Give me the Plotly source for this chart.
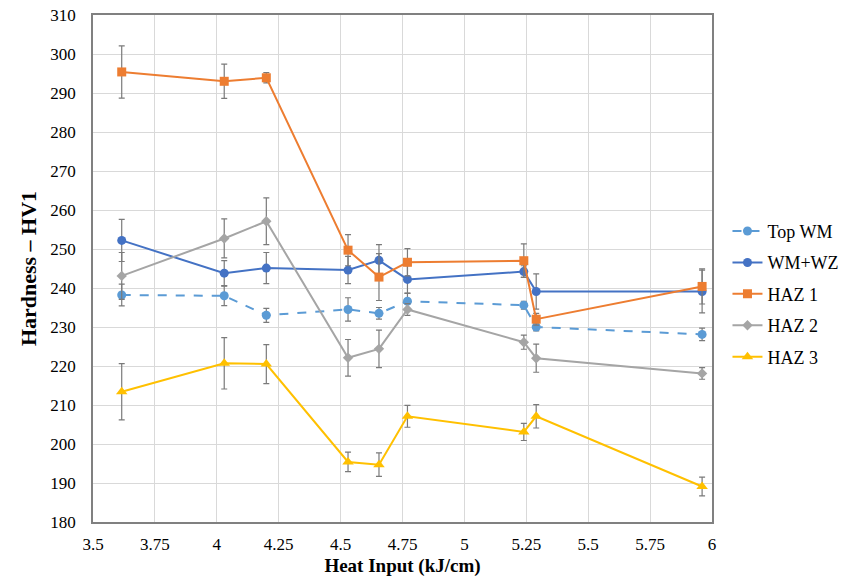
import plotly.graph_objects as go

heat_input = [3.616, 4.03, 4.20, 4.53, 4.655, 4.77, 5.24, 5.29, 5.96]

top_wm = [238.2, 238.0, 233.0, 234.5, 233.5, 236.6, 235.6, 230.0, 228.1]
top_wm_err = [2.8, 2.5, 1.8, 3.0, 1.5, 2.0, 1.0, 1.0, 1.6]

wm_wz = [252.2, 243.8, 245.1, 244.6, 247.1, 242.2, 244.2, 239.1, 239.1]
wm_wz_err = [5.4, 3.2, 4.0, 3.5, 4.0, 3.5, 1.5, 4.5, 5.5]

haz1 = [295.4, 293.0, 293.9, 249.7, 242.8, 246.6, 247.0, 232.0, 240.4]
haz1_err = [6.7, 4.4, 1.3, 4.0, 6.0, 3.5, 4.3, 1.5, 4.5]

haz2 = [243.1, 252.7, 257.1, 222.1, 224.4, 234.5, 226.1, 222.0, 218.1]
haz2_err = [6.0, 5.0, 6.0, 4.7, 4.8, 1.5, 1.8, 3.6, 1.5]

haz3 = [213.4, 220.7, 220.5, 195.4, 194.7, 207.1, 203.1, 207.1, 189.1]
haz3_err = [7.2, 6.6, 5.0, 2.5, 3.0, 2.8, 2.2, 3.0, 2.4]

x_ticks = [3.5, 3.75, 4, 4.25, 4.5, 4.75, 5, 5.25, 5.5, 5.75, 6]
x_tick_labels = ["3.5", "3.75", "4", "4.25", "4.5", "4.75", "5", "5.25", "5.5", "5.75", "6"]

series = [
    ("Top WM", top_wm, top_wm_err, "#5B9BD5", "circle", 9, "dash"),
    ("WM+WZ", wm_wz, wm_wz_err, "#4472C4", "circle", 9, "solid"),
    ("HAZ 1", haz1, haz1_err, "#ED7D31", "square", 9, "solid"),
    ("HAZ 2", haz2, haz2_err, "#A5A5A5", "diamond", 8, "solid"),
    ("HAZ 3", haz3, haz3_err, "#FFC000", "triangle-up", 10, "solid"),
]

SERIF = "Liberation Serif"

fig = go.Figure()
for i, (name, ys, errs, color, sym, size, dash) in enumerate(series):
    fig.add_trace(go.Scatter(
        x=heat_input, y=ys, name=name, mode="lines+markers",
        legendgroup=f"g{i}",
        line=dict(color=color, width=2, dash=dash),
        marker=dict(color=color, symbol=sym, size=size),
        error_y=dict(type="data", array=errs, visible=True,
                     color="#7A7A7A", thickness=1.2, width=3),
    ))

fig.update_layout(
    width=857, height=577,
    margin=dict(l=93, r=145, t=15, b=55),
    paper_bgcolor="white", plot_bgcolor="white",
    font=dict(family=SERIF, size=17, color="#000000"),
    legend=dict(x=1.025, y=0.45, xanchor="left", yanchor="middle",
                font=dict(family=SERIF, size=18), traceorder="grouped", tracegroupgap=5,
                bgcolor="rgba(0,0,0,0)"),
    xaxis=dict(range=[3.5, 6], tickvals=x_ticks, ticktext=x_tick_labels,
               tickfont=dict(family=SERIF, size=17), automargin=False,
               showgrid=True, gridcolor="#D9D9D9", gridwidth=1,
               showline=True, linecolor="#808080", linewidth=1.5, mirror=True,
               ticks="outside", ticklen=6, tickcolor="rgba(0,0,0,0)", zeroline=False,
               title=dict(text="<b>Heat Input (kJ/cm)</b>", font=dict(family=SERIF, size=19), standoff=6)),
    yaxis=dict(range=[180, 310], dtick=10,
               tickfont=dict(family=SERIF, size=17), automargin=False,
               showgrid=True, gridcolor="#D9D9D9", gridwidth=1,
               showline=True, linecolor="#808080", linewidth=1.5, mirror=True,
               ticks="outside", ticklen=12, tickcolor="rgba(0,0,0,0)", zeroline=False,
               title=dict(text="<b>Hardness – HV1</b>", font=dict(family=SERIF, size=22), standoff=8)),
)

fig.write_html("out.html")
